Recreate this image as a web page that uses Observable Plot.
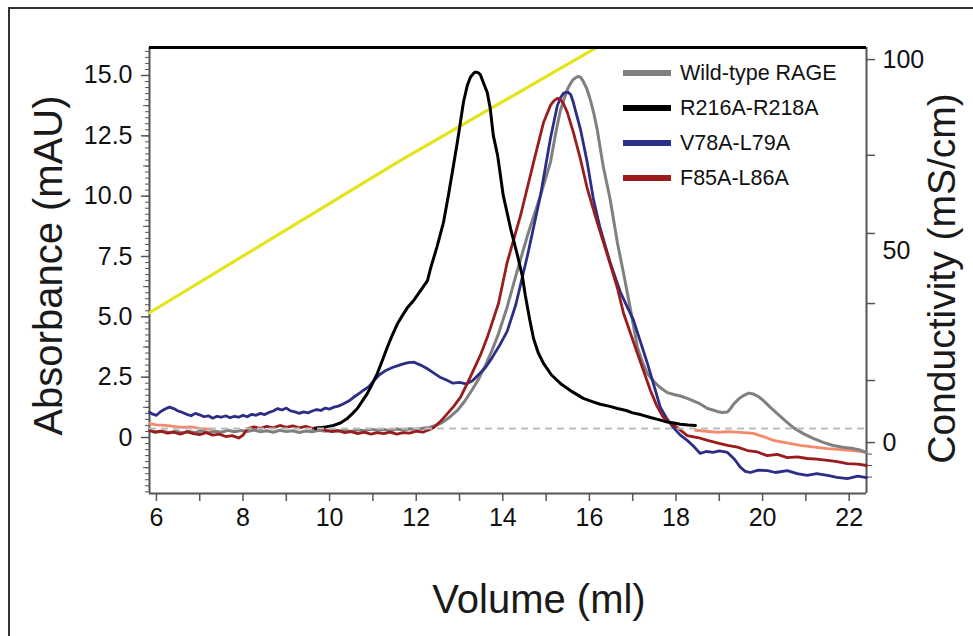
<!DOCTYPE html>
<html>
<head>
<meta charset="utf-8">
<script src="https://cdn.jsdelivr.net/npm/d3@7"></script>
<script src="https://cdn.jsdelivr.net/npm/@observablehq/plot@0.6"></script>
<style>
html, body { margin:0; padding:0; background:#fff; overflow:hidden; }
#wrap { position:relative; width:973px; height:636px; font-family:"Liberation Sans", Arial, sans-serif; }
#border { position:absolute; left:8px; top:7px; width:1200px; height:900px; border-left:2px solid #333; border-top:2px solid #333; pointer-events:none; }
#legend { position:absolute; left:623px; top:0; }
.row { position:absolute; left:0; display:flex; align-items:center; white-space:nowrap; height:30px; }
.sw { width:48px; height:6px; margin-right:9px; }
.lab { font-size:21.5px; color:#111; }
</style>
</head>
<body>
<div id="wrap"><div id="chart"></div><div id="border"></div><div id="legend"></div></div>
<script>
// ---------- data ----------
const seriesNames = ["Wild-type RAGE", "R216A-R218A", "V78A-L79A", "F85A-L86A"];
const seriesColors = ["#808080", "#000000", "#2b2d87", "#9a1c1c"];

// Wild-type RAGE (grey)
const wtVol = [5.84, 6.0, 6.15, 6.3, 6.45, 6.6, 6.75, 6.9, 7.05, 7.2, 7.35, 7.5, 7.65, 7.8, 7.95, 8.1, 8.25, 8.4, 8.55, 8.7, 8.85, 9.0, 9.15, 9.3, 9.45, 9.6, 9.75, 9.9, 10.05, 10.2, 10.35, 10.5, 10.65, 10.8, 10.95, 11.1, 11.25, 11.4, 11.55, 11.7, 11.85, 12.0, 12.15, 12.3, 12.45, 12.6, 12.78, 12.95, 13.12, 13.3, 13.45, 13.6, 13.75, 13.9, 14.1, 14.3, 14.57, 14.87, 15.1, 15.22, 15.33, 15.42, 15.49, 15.56, 15.63, 15.7, 15.75, 15.8, 15.86, 15.94, 16.02, 16.1, 16.18, 16.32, 16.48, 16.65, 16.8, 16.95, 17.11, 17.22, 17.34, 17.5, 17.65, 17.8, 17.95, 18.1, 18.26, 18.4, 18.55, 18.73, 18.85, 18.95, 19.07, 19.19, 19.26, 19.33, 19.45, 19.56, 19.68, 19.79, 19.9, 20.02, 20.18, 20.34, 20.52, 20.71, 20.95, 21.17, 21.4, 21.63, 21.85, 22.1, 22.25, 22.4];
const wtAbs = [0.3, 0.22, 0.27, 0.2, 0.26, 0.19, 0.25, 0.21, 0.28, 0.2, 0.26, 0.22, 0.3, 0.24, 0.29, 0.25, 0.31, 0.24, 0.28, 0.22, 0.3, 0.25, 0.28, 0.21, 0.27, 0.24, 0.3, 0.26, 0.32, 0.27, 0.3, 0.25, 0.32, 0.28, 0.34, 0.3, 0.33, 0.28, 0.35, 0.31, 0.36, 0.33, 0.38, 0.42, 0.5, 0.62, 0.85, 1.12, 1.5, 2.0, 2.45, 3.0, 3.6, 4.3, 5.4, 6.7, 8.37, 10.03, 11.4, 12.6, 13.55, 14.05, 14.42, 14.66, 14.84, 14.93, 14.96, 14.92, 14.75, 14.45, 14.0, 13.45, 12.76, 11.23, 9.86, 8.04, 6.7, 5.3, 3.73, 3.15, 2.65, 2.3, 2.05, 1.86, 1.78, 1.72, 1.62, 1.52, 1.4, 1.2, 1.14, 1.08, 1.04, 1.06, 1.2, 1.38, 1.6, 1.74, 1.84, 1.8, 1.7, 1.53, 1.25, 0.99, 0.7, 0.41, 0.15, -0.04, -0.2, -0.33, -0.4, -0.46, -0.52, -0.62];

// R216A-R218A (black)
const rrVol = [9.67, 9.79, 9.94, 10.09, 10.25, 10.41, 10.52, 10.64, 10.75, 10.87, 10.98, 11.1, 11.22, 11.33, 11.45, 11.57, 11.68, 11.8, 11.95, 12.1, 12.26, 12.33, 12.48, 12.63, 12.75, 12.86, 12.95, 13.02, 13.09, 13.18, 13.25, 13.32, 13.37, 13.43, 13.48, 13.55, 13.64, 13.71, 13.78, 13.88, 14.01, 14.18, 14.34, 14.45, 14.52, 14.62, 14.71, 14.82, 14.94, 15.12, 15.33, 15.6, 15.86, 16.05, 16.25, 16.45, 16.65, 16.85, 17.0, 17.2, 17.41, 17.6, 17.8, 17.95, 18.1, 18.28, 18.45];
const rrAbs = [0.37, 0.41, 0.45, 0.5, 0.6, 0.79, 0.98, 1.2, 1.5, 1.82, 2.2, 2.65, 3.2, 3.73, 4.25, 4.72, 5.05, 5.39, 5.7, 6.09, 6.5, 7.0, 7.9, 8.91, 10.1, 11.27, 12.23, 13.05, 13.88, 14.59, 14.92, 15.08, 15.14, 15.12, 15.04, 14.71, 14.3, 13.63, 12.52, 11.69, 10.03, 8.66, 7.54, 6.7, 5.88, 4.9, 4.1, 3.5, 3.07, 2.6, 2.24, 1.9, 1.62, 1.5, 1.38, 1.3, 1.2, 1.12, 1.02, 0.94, 0.83, 0.74, 0.64, 0.6, 0.55, 0.52, 0.5];

// V78A-L79A (blue)
const vlVol = [5.84, 5.9, 6.0, 6.1, 6.2, 6.3, 6.4, 6.5, 6.6, 6.7, 6.8, 6.9, 7.0, 7.1, 7.2, 7.3, 7.4, 7.5, 7.6, 7.7, 7.8, 7.9, 8.0, 8.1, 8.2, 8.3, 8.4, 8.5, 8.6, 8.7, 8.8, 8.9, 9.0, 9.1, 9.2, 9.3, 9.4, 9.5, 9.6, 9.7, 9.8, 9.9, 10.0, 10.1, 10.2, 10.3, 10.45, 10.58, 10.7, 10.8, 10.9, 11.02, 11.15, 11.3, 11.45, 11.58, 11.7, 11.82, 11.95, 12.1, 12.25, 12.4, 12.55, 12.7, 12.85, 13.0, 13.15, 13.3, 13.45, 13.6, 13.75, 13.92, 14.1, 14.3, 14.57, 14.87, 15.1, 15.26, 15.34, 15.4, 15.46, 15.51, 15.57, 15.63, 15.7, 15.79, 15.95, 16.09, 16.25, 16.48, 16.72, 17.02, 17.34, 17.5, 17.64, 17.8, 17.94, 18.1, 18.26, 18.4, 18.56, 18.7, 18.86, 19.0, 19.19, 19.35, 19.49, 19.6, 19.72, 19.9, 20.11, 20.3, 20.57, 20.8, 21.03, 21.25, 21.5, 21.72, 21.96, 22.2, 22.4];
const vlAbs = [1.05, 0.98, 0.92, 1.08, 1.18, 1.26, 1.2, 1.1, 1.04, 0.96, 0.9, 1.0, 0.94, 0.86, 0.9, 0.8, 0.88, 0.84, 0.9, 0.82, 0.88, 0.84, 0.92, 0.86, 0.96, 0.92, 1.0, 0.95, 1.04, 1.1, 1.2, 1.14, 1.22, 1.1, 1.06, 1.0, 1.06, 1.02, 1.1, 1.16, 1.12, 1.22, 1.18, 1.26, 1.3, 1.38, 1.52, 1.7, 1.85, 1.98, 2.1, 2.35, 2.6, 2.78, 2.9, 2.98, 3.05, 3.1, 3.12, 3.0, 2.86, 2.68, 2.5, 2.38, 2.25, 2.28, 2.22, 2.35, 2.62, 2.9, 3.3, 3.8, 4.4, 5.5, 7.54, 10.03, 12.39, 13.76, 14.1, 14.26, 14.3, 14.3, 14.2, 13.88, 13.4, 12.8, 11.4, 9.9, 8.66, 7.25, 6.0, 4.85, 3.07, 2.1, 1.24, 0.75, 0.41, 0.1, -0.12, -0.35, -0.66, -0.58, -0.62, -0.55, -0.62, -0.9, -1.24, -1.4, -1.45, -1.35, -1.37, -1.45, -1.37, -1.5, -1.57, -1.5, -1.57, -1.65, -1.7, -1.6, -1.66];

// F85A-L86A (dark red)
const flVol = [5.84, 5.95, 6.1, 6.25, 6.4, 6.55, 6.7, 6.85, 7.0, 7.15, 7.3, 7.45, 7.6, 7.75, 7.9, 8.0, 8.1, 8.25, 8.4, 8.55, 8.7, 8.85, 9.0, 9.15, 9.3, 9.45, 9.6, 9.75, 9.9, 10.05, 10.2, 10.35, 10.5, 10.65, 10.8, 10.95, 11.1, 11.25, 11.4, 11.55, 11.7, 11.85, 12.0, 12.15, 12.3, 12.4, 12.55, 12.72, 12.87, 13.02, 13.17, 13.32, 13.48, 13.64, 13.9, 14.1, 14.41, 14.71, 14.94, 15.1, 15.18, 15.26, 15.33, 15.41, 15.49, 15.63, 15.79, 15.95, 16.18, 16.42, 16.65, 16.79, 17.11, 17.41, 17.56, 17.71, 17.87, 18.03, 18.26, 18.5, 18.73, 18.95, 19.19, 19.42, 19.65, 19.88, 20.11, 20.34, 20.57, 20.8, 21.03, 21.25, 21.5, 21.72, 21.96, 22.2, 22.4];
const flAbs = [0.3, 0.22, 0.26, 0.18, 0.22, 0.14, 0.24, 0.16, 0.12, 0.2, 0.1, 0.14, 0.04, 0.08, -0.02, 0.1, 0.36, 0.44, 0.38, 0.46, 0.4, 0.5, 0.42, 0.48, 0.4, 0.46, 0.38, 0.42, 0.3, 0.24, 0.28, 0.2, 0.24, 0.16, 0.22, 0.14, 0.2, 0.16, 0.22, 0.14, 0.2, 0.18, 0.26, 0.22, 0.32, 0.41, 0.65, 0.99, 1.3, 1.66, 2.2, 2.78, 3.4, 4.14, 5.55, 7.25, 9.2, 11.4, 13.05, 13.76, 13.95, 14.05, 14.02, 13.8, 13.47, 12.64, 11.56, 10.32, 8.91, 7.54, 6.17, 5.14, 3.48, 1.95, 1.3, 0.83, 0.6, 0.41, 0.08, 0.0, -0.12, -0.22, -0.33, -0.4, -0.54, -0.6, -0.75, -0.7, -0.83, -0.8, -0.87, -0.9, -0.95, -1.0, -1.08, -1.1, -1.16];

// light red trace, visible only at the two ends
const salmonLeftVol = [5.84, 6.0, 6.2, 6.4, 6.6, 6.8, 7.0, 7.3];
const salmonLeftAbs = [0.58, 0.52, 0.5, 0.46, 0.42, 0.44, 0.38, 0.34];
const salmonRightVol = [18.45, 18.7, 18.96, 19.2, 19.49, 19.79, 20.0, 20.25, 20.5, 20.87, 21.2, 21.5, 21.8, 22.1, 22.4];
const salmonRightAbs = [0.3, 0.26, 0.21, 0.24, 0.21, 0.17, 0.05, -0.12, -0.2, -0.33, -0.4, -0.46, -0.5, -0.54, -0.62];

// conductivity (mS/cm)
const condVol = [5.84, 11.63, 16.16];
const condVal = [33.9, 73.6, 103.1];

const dashedLevel = [0.37];

const absTickLabels = [0, 2.5, 5, 7.5, 10, 12.5, 15];
const absMedTicks = [-1.25, 1.25, 3.75, 6.25, 8.75, 11.25, 13.75];
const volTickLabels = [6, 8, 10, 12, 14, 16, 18, 20, 22];
const condTickLabels = [0, 50, 100];
const condTicks = [100, 75, 54.6, 36.3, 16.2, 0];
const condMinorTicks = [-3, -6, -9];

// ---------- scales ----------
const xDomain = [5.84, 22.4];
const yDomain = [-2.32, 16.16];
const condToAbs = d3.scaleLinear().domain([0, 100]).range([-0.21, 15.66]);
const absMinorTicks = d3.range(-2.25, 16.01, 0.25);
const volTicks = d3.range(6, 23, 1);

const rows = (v, a) => v.map((d, i) => ({v: d, a: a[i]}));
const font = '"Liberation Sans", Arial, sans-serif';
const axisCol = "#555";

const chart = Plot.plot({
  width: 973,
  height: 636,
  marginLeft: 149,
  marginRight: 107,
  marginTop: 47,
  marginBottom: 143,
  x: {domain: xDomain},
  y: {domain: yDomain},
  style: {fontFamily: font, background: "transparent", color: "#111"},
  marks: [
    // left axis ticks
    Plot.axisY({ticks: absMinorTicks, tickSize: 4, fill: "none", stroke: axisCol, label: null}),
    Plot.axisY({ticks: absMedTicks, tickSize: 6, fill: "none", stroke: axisCol, label: null}),
    Plot.axisY({ticks: absTickLabels, tickSize: 8, tickPadding: 9, stroke: axisCol, strokeWidth: 1.5,
      tickFormat: d => d === 0 ? "0" : d.toFixed(1), fontSize: 25, label: null}),
    // bottom axis
    Plot.axisX({ticks: volTicks, tickSize: 8, fill: "none", stroke: axisCol, strokeWidth: 1.5, label: null}),
    Plot.axisX({ticks: volTickLabels, tickSize: 0, tickPadding: 15, fontSize: 25, tickFormat: d => String(d), label: null}),
    // right axis ticks and labels
    Plot.axisY({anchor: "right", ticks: condTicks.map(condToAbs), tickSize: 8, fill: "none", stroke: axisCol, strokeWidth: 1.5, label: null}),
    Plot.axisY({anchor: "right", ticks: condMinorTicks.map(condToAbs), tickSize: 5, fill: "none", stroke: axisCol, label: null}),
    Plot.text(condTickLabels, {frameAnchor: "right", y: d => condToAbs(d), text: d => String(d), dx: 16, textAnchor: "start", fontSize: 25, fill: "#111"}),
    // frame lines
    Plot.ruleX([xDomain[0]], {stroke: axisCol, strokeWidth: 2}),
    Plot.ruleX([xDomain[1]], {stroke: axisCol, strokeWidth: 2}),
    Plot.ruleY([yDomain[0]], {stroke: axisCol, strokeWidth: 2}),
    // conductivity
    Plot.line(rows(condVol, condVal), {x: "v", y: d => condToAbs(d.a), stroke: "#e4e41c", strokeWidth: 3.2, clip: true}),
    // traces
    Plot.line(rows(salmonLeftVol, salmonLeftAbs), {x: "v", y: "a", stroke: "#f4896b", strokeWidth: 2.8}),
    Plot.line(rows(salmonRightVol, salmonRightAbs), {x: "v", y: "a", stroke: "#f4896b", strokeWidth: 2.8}),
    Plot.line(rows(wtVol, wtAbs), {x: "v", y: "a", stroke: seriesColors[0], strokeWidth: 3, strokeLinejoin: "round"}),
    Plot.line(rows(vlVol, vlAbs), {x: "v", y: "a", stroke: seriesColors[2], strokeWidth: 2.8, strokeLinejoin: "round"}),
    Plot.line(rows(flVol, flAbs), {x: "v", y: "a", stroke: seriesColors[3], strokeWidth: 2.8, strokeLinejoin: "round"}),
    Plot.line(rows(rrVol, rrAbs), {x: "v", y: "a", stroke: seriesColors[1], strokeWidth: 3, strokeLinejoin: "round"}),
    // dashed baseline
    Plot.ruleY(dashedLevel, {stroke: "#bdbdbd", strokeWidth: 2, strokeDasharray: "7,5"}),
    // top frame line
    Plot.ruleY([yDomain[1]], {stroke: "#000", strokeWidth: 3}),
    // axis titles
    Plot.text(["Absorbance (mAU)"], {frameAnchor: "left", text: d => d, dx: -100, dy: -5, rotate: -90, fontSize: 40, textAnchor: "middle", lineAnchor: "middle", fill: "#1a1a1a"}),
    Plot.text(["Conductivity (mS/cm)"], {frameAnchor: "right", text: d => d, dx: 76, dy: 8, rotate: -90, fontSize: 39, textAnchor: "middle", lineAnchor: "middle", fill: "#1a1a1a"}),
    Plot.text(["Volume (ml)"], {frameAnchor: "bottom", text: d => d, dx: 31, dy: 107, fontSize: 40, textAnchor: "middle", lineAnchor: "middle", fill: "#1a1a1a"})
  ]
});
document.getElementById("chart").appendChild(chart);

// legend (inside the plot, top right)
const legendTops = [73, 108, 143, 178];
const legend = document.getElementById("legend");
seriesNames.forEach((name, i) => {
  const row = document.createElement("div");
  row.className = "row";
  row.style.top = (legendTops[i] - 15) + "px";
  const sw = document.createElement("div");
  sw.className = "sw";
  sw.style.background = seriesColors[i];
  const lab = document.createElement("span");
  lab.className = "lab";
  lab.textContent = name;
  row.appendChild(sw);
  row.appendChild(lab);
  legend.appendChild(row);
});
</script>
</body>
</html>
